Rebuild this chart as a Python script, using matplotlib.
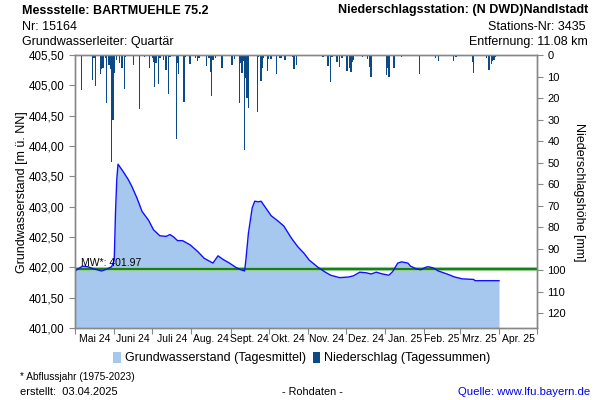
import matplotlib
matplotlib.use('Agg')
import matplotlib.pyplot as plt
import matplotlib.dates as mdates
from matplotlib.ticker import FuncFormatter, FixedLocator, NullFormatter
from matplotlib.patches import Patch
import numpy as np
import pandas as pd

plt.rcParams['font.family'] = ['Liberation Sans', 'DejaVu Sans']

# ---------------- data ----------------
level_dates = [
    '2024-05-01', '2024-05-07', '2024-05-11', '2024-05-15', '2024-05-22', '2024-05-26',
    '2024-05-30', '2024-05-31', '2024-06-01', '2024-06-02', '2024-06-03', '2024-06-04',
    '2024-06-08', '2024-06-12', '2024-06-15', '2024-06-19', '2024-06-23', '2024-06-28',
    '2024-07-02', '2024-07-07', '2024-07-12', '2024-07-15', '2024-07-18', '2024-07-21',
    '2024-07-25', '2024-07-31', '2024-08-06', '2024-08-11', '2024-08-18', '2024-08-22',
    '2024-08-26', '2024-08-31', '2024-09-05', '2024-09-09', '2024-09-12', '2024-09-13',
    '2024-09-15', '2024-09-18', '2024-09-20', '2024-09-23', '2024-09-25', '2024-09-28',
    '2024-10-03', '2024-10-08', '2024-10-13', '2024-10-19', '2024-10-24', '2024-10-29',
    '2024-11-02', '2024-11-09', '2024-11-14', '2024-11-19', '2024-11-26', '2024-12-03',
    '2024-12-07', '2024-12-12', '2024-12-17', '2024-12-21', '2024-12-25', '2024-12-30',
    '2025-01-04', '2025-01-07', '2025-01-11', '2025-01-14', '2025-01-19', '2025-01-21',
    '2025-01-25', '2025-01-29', '2025-02-02', '2025-02-04', '2025-02-08', '2025-02-12',
    '2025-02-19', '2025-02-25', '2025-03-03', '2025-03-12', '2025-03-13', '2025-04-01',
]
level_values = [
    401.94, 402.02, 402.01, 401.98, 401.94, 401.97,
    402.01, 402.07, 402.12, 402.90, 403.45, 403.70,
    403.58, 403.45, 403.33, 403.14, 402.92, 402.78,
    402.62, 402.52, 402.51, 402.54, 402.50, 402.44,
    402.44, 402.37, 402.26, 402.15, 402.07, 402.19,
    402.13, 402.07, 402.00, 401.96, 401.94, 402.12,
    402.56, 402.98, 403.09, 403.08, 403.09, 403.00,
    402.85, 402.77, 402.68, 402.48, 402.34, 402.23,
    402.12, 402.00, 401.93, 401.87, 401.83, 401.84,
    401.86, 401.92, 401.91, 401.89, 401.92, 401.89,
    401.87, 401.93, 402.07, 402.09, 402.07, 402.02,
    401.98, 401.96, 402.00, 402.01, 401.99, 401.94,
    401.89, 401.84, 401.81, 401.80, 401.78, 401.78,
]

precip_dates = [
    '2024-05-06', '2024-05-15', '2024-05-16', '2024-05-17', '2024-05-21', '2024-05-22',
    '2024-05-23', '2024-05-25', '2024-05-26', '2024-05-28', '2024-05-29', '2024-05-30',
    '2024-05-31', '2024-06-01', '2024-06-03', '2024-06-05', '2024-06-07', '2024-06-09',
    '2024-06-10', '2024-06-16', '2024-06-21', '2024-06-25', '2024-06-29', '2024-07-01',
    '2024-07-02', '2024-07-03', '2024-07-04', '2024-07-06', '2024-07-07', '2024-07-10',
    '2024-07-12', '2024-07-14', '2024-07-15', '2024-07-20', '2024-07-21', '2024-07-22',
    '2024-07-26', '2024-07-27', '2024-07-31', '2024-08-04', '2024-08-06', '2024-08-07',
    '2024-08-13', '2024-08-15', '2024-08-16', '2024-08-17', '2024-08-18', '2024-08-20',
    '2024-08-25', '2024-09-02', '2024-09-04', '2024-09-08', '2024-09-09', '2024-09-10',
    '2024-09-11', '2024-09-12', '2024-09-13', '2024-09-14', '2024-09-15', '2024-09-22',
    '2024-09-23', '2024-09-25', '2024-09-26', '2024-09-27', '2024-09-30', '2024-10-01',
    '2024-10-03', '2024-10-07', '2024-10-10', '2024-10-11', '2024-10-14', '2024-10-20',
    '2024-10-21', '2024-10-23', '2024-11-06', '2024-11-13', '2024-11-17', '2024-11-19',
    '2024-11-20', '2024-11-24', '2024-11-26', '2024-11-28', '2024-12-02', '2024-12-04',
    '2024-12-05', '2024-12-06', '2024-12-07', '2024-12-14', '2024-12-18', '2024-12-20',
    '2024-12-21', '2025-01-02', '2025-01-03', '2025-01-04', '2025-01-08', '2025-01-14',
    '2025-01-28', '2025-02-10', '2025-02-12', '2025-02-24', '2025-02-26', '2025-03-11',
    '2025-03-12', '2025-03-22', '2025-03-24', '2025-03-26', '2025-03-27', '2025-03-28',
    '2025-03-29',
]
precip_mm = [
    16.3, 11.6, 1.2, 14.6, 9.0, 6.5,
    5.9, 1.2, 22.5, 4.7, 6.5, 49.6,
    30.0, 8.5, 2.3, 3.9, 5.9, 15.8,
    1.0, 4.7, 25.1, 1.0, 6.2, 1.6,
    3.4, 14.7, 3.9, 13.5, 1.4, 2.3,
    7.0, 18.3, 0.8, 38.8, 3.9, 9.0,
    21.7, 0.8, 4.3, 1.2, 2.8, 1.6,
    5.0, 1.2, 8.1, 19.1, 2.3, 1.6,
    5.9, 4.7, 1.9, 22.5, 3.9, 8.5,
    2.8, 44.2, 10.9, 20.2, 24.5, 26.4,
    0.8, 11.9, 6.2, 1.2, 7.4, 1.9,
    1.9, 8.8, 1.2, 1.2, 2.3, 0.8,
    6.5, 4.7, 0.5, 0.8, 5.1, 12.4,
    1.1, 3.1, 5.7, 1.6, 7.3, 6.2,
    7.8, 3.1, 2.3, 0.8, 2.0, 5.4,
    10.4, 9.3, 6.2, 10.1, 6.2, 0.8,
    8.8, 1.6, 2.6, 2.6, 1.1, 3.1,
    8.2, 1.6, 7.0, 4.2, 2.6, 2.3,
    0.8,
]

month_labels = ['Mai 24', 'Juni 24', 'Juli 24', 'Aug. 24', 'Sept. 24', 'Okt. 24',
                'Nov. 24', 'Dez. 24', 'Jan. 25', 'Feb. 25', 'Mrz. 25', 'Apr. 25']
mean_value = 401.97

# ---------------- figure ----------------
fig = plt.figure(figsize=(6, 4), dpi=100)
ax = fig.add_axes([75 / 600, 1 - 328 / 400, 462 / 600, 273 / 400])

ld = pd.to_datetime(level_dates)
ax.fill_between(ld, level_values, 401, color='#a7c8ee', lw=0, zorder=1)
ax.plot(ld, level_values, color='#1010ff', lw=1.0, zorder=3)
ax.axhline(mean_value, color='#8fd08f', lw=3.0, zorder=2)
ax.axhline(mean_value, color='#1a7a1a', lw=1.4, zorder=2)
ax.text(pd.Timestamp('2024-05-06'), mean_value + 0.025, f'MW*: {mean_value:.2f}',
        fontsize=7.5, va='bottom', ha='left', zorder=4)

ax.set_ylim(401, 405.5)
ax.set_yticks(np.arange(401, 405.51, 0.5))
ax.yaxis.set_major_formatter(FuncFormatter(lambda v, p: f'{v:.2f}'.replace('.', ',')))

start = pd.Timestamp('2024-05-01')
end = pd.Timestamp('2025-05-01')
ax.set_xlim(start, end)
month_starts = pd.date_range(start, end, freq='MS')
ax.xaxis.set_major_locator(FixedLocator(mdates.date2num(month_starts)))
ax.xaxis.set_major_formatter(NullFormatter())
mids = [ms + (me - ms) / 2 for ms, me in zip(month_starts[:-1], month_starts[1:])]
ax.xaxis.set_minor_locator(FixedLocator(mdates.date2num(mids)))
ax.set_xticklabels(month_labels, minor=True)
ax.tick_params(axis='x', which='minor', length=0, labelsize=7.5, pad=4)
ax.tick_params(axis='x', which='major', length=4, color='#888888', direction='out')
ax.tick_params(axis='y', length=4, color='#888888', labelsize=8.3, direction='out')

ax2 = ax.twinx()
ax2.bar(pd.to_datetime(precip_dates), precip_mm, width=1.1, color='#0b4a86',
        align='center', lw=0, zorder=2)
ax2.set_ylim(126.8, 0)
ax2.set_yticks(range(0, 121, 10))
ax2.tick_params(axis='y', length=4, color='#888888', labelsize=8, direction='out')
ax2.set_xlim(start, end)

for a in (ax, ax2):
    for s in a.spines.values():
        s.set_color('#888888')
        s.set_linewidth(1.0)

# axis labels
fig.text(22 / 600, 1 - 192 / 400, 'Grundwasserstand [m ü. NN]', rotation=90,
         ha='center', va='center', fontsize=9)
fig.text(579 / 600, 1 - 192 / 400, 'Niederschlagshöhe [mm]', rotation=270,
         ha='center', va='center', fontsize=9)

# header
fig.text(22 / 600, 1 - 10.5 / 400, 'Messstelle: BARTMUEHLE 75.2', fontsize=9,
         fontweight='bold', ha='left', va='center')
fig.text(22 / 600, 1 - 26.5 / 400, 'Nr: 15164', fontsize=9, ha='left', va='center')
fig.text(22 / 600, 1 - 42 / 400, 'Grundwasserleiter: Quartär', fontsize=9,
         ha='left', va='center')
fig.text(588 / 600, 1 - 10.5 / 400, 'Niederschlagsstation: (N DWD)Nandlstadt',
         fontsize=9, fontweight='bold', ha='right', va='center')
fig.text(586 / 600, 1 - 26.5 / 400, 'Stations-Nr: 3435', fontsize=9,
         ha='right', va='center')
fig.text(588 / 600, 1 - 42 / 400, 'Entfernung: 11.08 km', fontsize=9,
         ha='right', va='center')

# legend
handles = [Patch(facecolor='#a7c8ee', edgecolor='none', label='Grundwasserstand (Tagesmittel)'),
           Patch(facecolor='#0b4a86', edgecolor='none', label='Niederschlag (Tagessummen)')]
fig.legend(handles=handles, loc='center', bbox_to_anchor=(302 / 600, 1 - 358 / 400),
           ncol=2, frameon=False, fontsize=9, handlelength=0.6, handleheight=1.0,
           handletextpad=0.35, columnspacing=0.5)

# footer
fig.text(20 / 600, 1 - 377 / 400, '* Abflussjahr (1975-2023)', fontsize=7.3,
         ha='left', va='center')
fig.text(20 / 600, 1 - 392 / 400, 'erstellt:  03.04.2025', fontsize=8,
         ha='left', va='center')
fig.text(312 / 600, 1 - 392 / 400, '- Rohdaten -', fontsize=7.8, ha='center', va='center')
fig.text(590 / 600, 1 - 392 / 400, 'Quelle: www.lfu.bayern.de', fontsize=8.2,
         ha='right', va='center', color='#0000ee')

fig.savefig('out.png', dpi=100)
